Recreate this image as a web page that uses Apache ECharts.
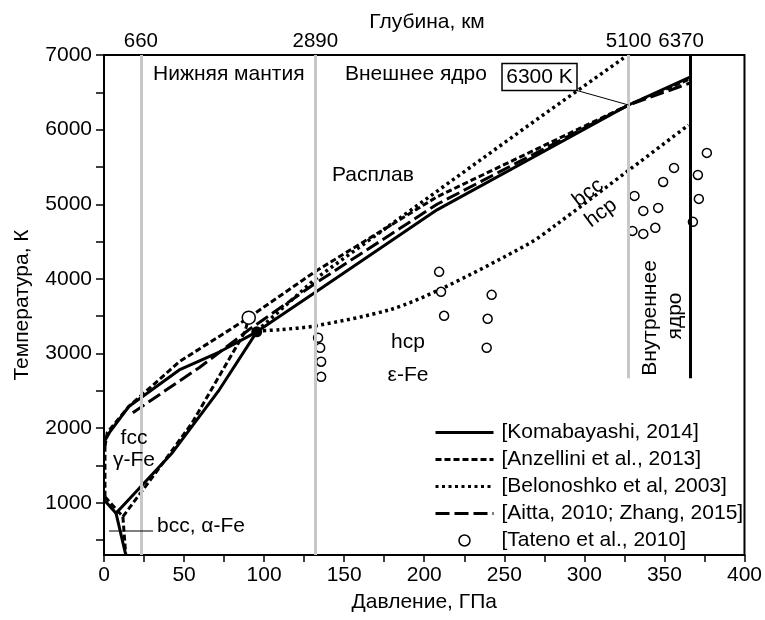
<!DOCTYPE html>
<html>
<head>
<meta charset="utf-8">
<script src="https://cdn.jsdelivr.net/npm/echarts@6/dist/echarts.min.js"></script>
<style>
  html, body { margin: 0; padding: 0; background: #fff; }
  #chart { width: 765px; height: 620px; }
</style>
</head>
<body>
<div id="chart"></div>
<script>
// Phase diagram of iron: temperature (K) vs pressure (GPa), with Earth depth boundaries on top.

// Axis ticks
const temperatureLabels = [1000, 2000, 3000, 4000, 5000, 6000, 7000];
const temperatureTicks = [500, 1000, 1500, 2000, 2500, 3000, 3500, 4000, 4500, 5000, 5500, 6000, 6500, 7000];

// Depth boundaries (km) and the pressure where they sit
const depthKm = ['660', '2890', '5100', '6370'];
const depthPressure = [23, 132, 327.6, 366];
const depthLineBottom = [300, 300, 2670, 2670];

// [Komabayashi, 2014] — solid
const komaMeltingFcc = [[0, 1811], [3.7, 1950], [15.5, 2290], [47, 2780], [72, 3020], [95.4, 3290]];
const komaMeltingHcp = [[95.4, 3290], [132, 3820], [208, 4925], [327.6, 6330], [366, 6705]];
const komaFccHcp = [[7.5, 860], [42.7, 1671], [72, 2514], [95.4, 3290]];
const komaBccFcc = [[0, 1040], [7.5, 860]];
const komaBccHcp = [[7.5, 860], [13.6, 300]];

// [Anzellini et al., 2013] — short dashes
const anzMelting = [[0.6, 1750], [2, 1940], [15.5, 2290], [47, 2890], [90.4, 3480], [95, 3550], [132, 4100], [208, 5100], [327.6, 6330], [366, 6680]];
const anzFccEdge = [[0.6, 1080], [0.6, 1750]];
const anzBccFcc = [[0.6, 1080], [11.8, 814]];
const anzBccHcp = [[11.8, 814], [13.6, 300]];
const anzFccHcp = [[11.8, 814], [35, 1480], [55, 2070], [88, 3290], [90.4, 3480]];

// [Belonoshko et al, 2003] — dots
const beloMelting = [[95.4, 3300], [132, 4000], [264, 6040], [324.5, 6960]];
const beloBccHcp = [[95.4, 3300], [110, 3320], [132, 3370], [179, 3590], [210, 3860], [266, 4480], [282, 4720], [328, 5460], [365, 6060]];

// [Aitta, 2010; Zhang, 2015] — long dashes
const aittaMelting = [[18, 2206], [47, 2630], [59.4, 2809], [82.4, 3184], [90.4, 3318], [132, 3940], [208, 5000], [327.6, 6330], [366, 6625]];

// [Tateno et al., 2010] — open circles
const tatenoPoints = [
  [133.7, 3211], [135.0, 3077], [135.6, 2890], [135.6, 2688],
  [209.3, 4094], [210.5, 3827], [212.4, 3505],
  [242.1, 3786], [239.6, 3465], [239.0, 3077],
  [331.3, 5112], [336.8, 4911], [346.1, 4951], [330.0, 4643], [336.8, 4603], [344.3, 4684],
  [349.2, 5299], [356.0, 5487], [370.9, 5393], [376.5, 5688], [371.5, 5072], [367.8, 4764]
];

// Triple points
const fccHcpLiquidOpen = [[90.4, 3480]];
const fccHcpLiquidFilled = [[95.4, 3290]];

const FONT = '"Liberation Sans", Arial, Helvetica, sans-serif';
const FS = 21;
const NAMES = ['[Komabayashi, 2014]', '[Anzellini et al., 2013]', '[Belonoshko et al, 2003]', '[Aitta, 2010; Zhang, 2015]', '[Tateno et al., 2010]'];
const DASH_SHORT = [6, 3];
const DOTS = [3, 3.5];
const DASH_LONG = [14, 5];

function curve(name, pts, dash, width, smooth) {
  return {
    type: 'line', name: name, data: pts, symbol: 'none', smooth: smooth || false,
    lineStyle: { color: '#000', width: width, type: dash },
    itemStyle: { color: '#000' },
    z: 3, silent: true, animation: false
  };
}

const hollow = { color: '#fff', borderColor: '#000', borderWidth: 1.5, opacity: 1 };

const series = [
  // depth boundary lines with their top labels
  {
    type: 'line', data: [], silent: true, animation: false, z: 1,
    markLine: {
      silent: true, animation: false, symbol: 'none',
      data: depthPressure.map((p, i) => [
        {
          coord: [p, depthLineBottom[i]],
          lineStyle: { color: i === 3 ? '#000' : '#c8c8c8', width: 3, type: 'solid' },
          label: { show: true, position: 'end', distance: 3, formatter: depthKm[i], offset: i === 3 ? [-9, 0] : [0, 0],
                   color: '#000', fontSize: 20.5, fontFamily: FONT }
        },
        { coord: [p, 7000] }
      ])
    }
  },
  curve(NAMES[0], komaMeltingFcc, 'solid', 3),
  curve(NAMES[0], komaMeltingHcp, 'solid', 3),
  curve(NAMES[0], komaFccHcp, 'solid', 3),
  curve(NAMES[0], komaBccFcc, 'solid', 3),
  curve(NAMES[0], komaBccHcp, 'solid', 3),
  curve(NAMES[1], anzMelting, DASH_SHORT, 3),
  curve(NAMES[1], anzFccEdge, DASH_SHORT, 3),
  curve(NAMES[1], anzBccFcc, DASH_SHORT, 3),
  curve(NAMES[1], anzBccHcp, DASH_SHORT, 3),
  curve(NAMES[1], anzFccHcp, DASH_SHORT, 3),
  curve(NAMES[2], beloMelting, DOTS, 3.5),
  curve(NAMES[2], beloBccHcp, DOTS, 3.5, 0.3),
  curve(NAMES[3], aittaMelting, DASH_LONG, 3),
  {
    type: 'scatter', name: NAMES[4], data: tatenoPoints, symbol: 'circle', symbolSize: 9,
    itemStyle: hollow, z: 4, silent: true, animation: false
  },
  {
    type: 'scatter', name: 'open', data: fccHcpLiquidOpen, symbol: 'circle', symbolSize: 13,
    itemStyle: hollow, z: 5, silent: true, animation: false
  },
  {
    type: 'scatter', name: 'filled', data: fccHcpLiquidFilled, symbol: 'circle', symbolSize: 11,
    itemStyle: { color: '#000', opacity: 1 }, z: 6, silent: true, animation: false
  }
];

const chart = echarts.init(document.getElementById('chart'), null, { renderer: 'canvas' });

const noSymbol = { opacity: 0 };

chart.setOption({
  animation: false,
  backgroundColor: '#fff',
  textStyle: { fontFamily: FONT, color: '#000' },
  grid: { left: 104, right: 15, top: 55, bottom: 65, show: true, borderColor: '#000', borderWidth: 2, backgroundColor: 'transparent' },
  xAxis: {
    type: 'value', min: 0, max: 400, interval: 50,
    name: 'Давление, ГПа', nameLocation: 'middle', nameGap: 37,
    nameTextStyle: { fontSize: FS, color: '#000', fontFamily: FONT },
    axisLine: { show: true, lineStyle: { color: '#000', width: 2 } },
    axisTick: { show: true, length: 7, lineStyle: { color: '#000', width: 1.5 } },
    minorTick: { show: true, splitNumber: 2, length: 7, lineStyle: { color: '#000', width: 1.5 } },
    axisLabel: { fontSize: FS, color: '#000', margin: 10, fontFamily: FONT },
    splitLine: { show: false }
  },
  yAxis: {
    type: 'value', min: 300, max: 7000,
    name: 'Температура, К', nameLocation: 'middle', nameGap: 71, nameRotate: 90,
    nameTextStyle: { fontSize: FS, color: '#000', fontFamily: FONT },
    axisLine: { show: true, lineStyle: { color: '#000', width: 2 } },
    axisTick: { show: true, length: 8, customValues: temperatureTicks, lineStyle: { color: '#000', width: 1.5 } },
    axisLabel: { fontSize: FS, color: '#000', margin: 12, customValues: temperatureLabels, fontFamily: FONT,
                 formatter: (v) => String(v) },
    splitLine: { show: false }
  },
  legend: {
    orient: 'vertical', left: 434, top: 422, itemGap: 6, padding: 0,
    itemWidth: 58, itemHeight: 11,
    lineStyle: { width: 3 },
    data: [
      { name: NAMES[0], itemStyle: noSymbol },
      { name: NAMES[1], itemStyle: noSymbol },
      { name: NAMES[2], itemStyle: noSymbol },
      { name: NAMES[3], itemStyle: noSymbol },
      { name: NAMES[4], icon: 'circle', itemStyle: hollow }
    ],
    textStyle: { fontSize: FS, color: '#000', fontFamily: FONT, lineHeight: 20, padding: [0, 0, 0, 3] },
    selectedMode: false
  },
  series: series
});

// Text annotations and leader lines
const leaderEnd = chart.convertToPixel({ gridIndex: 0 }, [327.6, 6330]);
const txt = (text, x, y, opts) => Object.assign({
  type: 'text', x: x, y: y, silent: true, z: 10,
  style: Object.assign({ text: text, fill: '#000', font: FS + 'px ' + FONT, textAlign: 'left', textVerticalAlign: 'middle' }, (opts && opts.style) || {})
}, (opts && opts.el) || {});

chart.setOption({
  graphic: [
    txt('Глубина, км', 427, 22, { style: { textAlign: 'center' } }),
    txt('Нижняя мантия', 153, 74),
    txt('Внешнее ядро', 345, 74),
    txt('Расплав', 332, 175),
    { type: 'rect', shape: { x: 502, y: 63.5, width: 75, height: 27 }, style: { fill: '#fff', stroke: '#000', lineWidth: 1.5 }, z: 9, silent: true },
    txt('6300 K', 539.5, 77, { style: { textAlign: 'center' } }),
    { type: 'line', shape: { x1: 577, y1: 90.5, x2: leaderEnd[0], y2: leaderEnd[1] }, style: { stroke: '#000', lineWidth: 1 }, z: 9, silent: true },
    txt('hcp', 408, 342, { style: { textAlign: 'center' } }),
    txt('ε-Fe', 408, 375, { style: { textAlign: 'center' } }),
    txt('fcc', 134, 438, { style: { textAlign: 'center' } }),
    txt('γ-Fe', 134, 460.5, { style: { textAlign: 'center' } }),
    txt('bcc, α-Fe', 157, 526),
    { type: 'line', shape: { x1: 109, y1: 531, x2: 153, y2: 531 }, style: { stroke: '#000', lineWidth: 1.2 }, z: 9, silent: true },
    txt('bcc', 588, 193, { style: { textAlign: 'center' }, el: { rotation: 37 * Math.PI / 180 } }),
    txt('hcp', 601, 213, { style: { textAlign: 'center' }, el: { rotation: 37 * Math.PI / 180 } }),
    txt('Внутреннее', 650, 318, { style: { textAlign: 'center' }, el: { rotation: Math.PI / 2 } }),
    txt('ядро', 675.5, 316, { style: { textAlign: 'center' }, el: { rotation: Math.PI / 2 } })
  ]
});
</script>
</body>
</html>
